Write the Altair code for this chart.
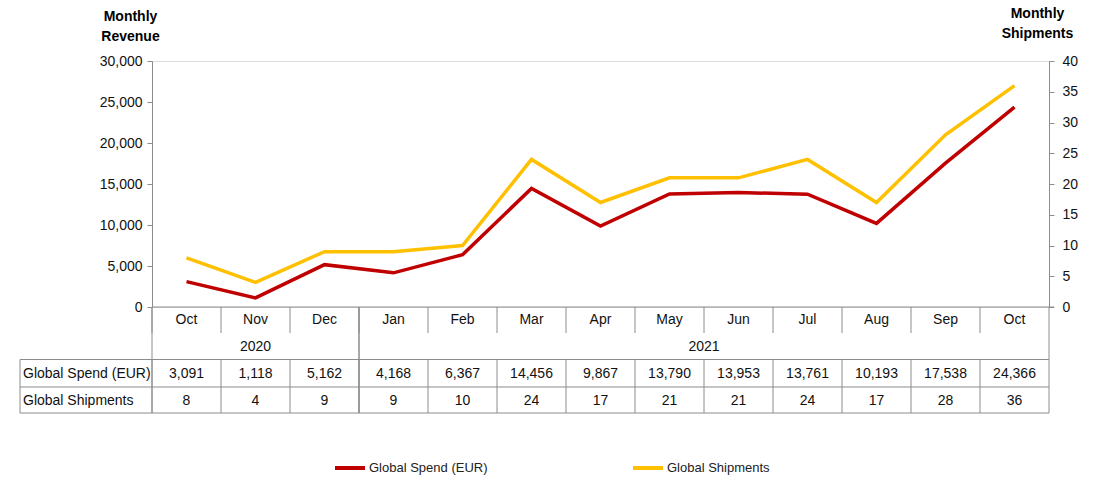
import altair as alt
import pandas as pd

months = ["Oct", "Nov", "Dec", "Jan", "Feb", "Mar", "Apr", "May", "Jun", "Jul", "Aug", "Sep", "Oct"]
years = ["2020"] * 3 + ["2021"] * 10
spend = [3091, 1118, 5162, 4168, 6367, 14456, 9867, 13790, 13953, 13761, 10193, 17538, 24366]
shipments = [8, 4, 9, 9, 10, 24, 17, 21, 21, 24, 17, 28, 36]
series_names = ["Global Spend (EUR)", "Global Shipments"]
series_colors = ["#C00000", "#FFC000"]

df = pd.DataFrame({
    "idx": list(range(len(months))),
    "month": months,
    "year": years,
    "spend": spend,
    "shipments": shipments,
})

FONT = "Liberation Sans, Arial, sans-serif"
GRID = "#8c8c8c"
TXT = "#111"
FS = 14
W, H = 897, 246
ROW_MONTH_BOTTOM = 272
ROW_YEAR_BOTTOM = 298.5
ROW_SPEND_BOTTOM = 326
ROW_SHIP_BOTTOM = 352
LABEL_LEFT = -132

xscale = alt.Scale(domain=[-0.5, len(months) - 0.5], nice=False, zero=False)
X = alt.X("idx:Q", scale=xscale, axis=None)

color = alt.Color(
    "series:N",
    scale=alt.Scale(domain=series_names, range=series_colors),
    legend=alt.Legend(
        orient="none", legendX=181, legendY=390, direction="horizontal",
        title=None, symbolType="stroke", symbolStrokeWidth=4, symbolSize=900,
        labelFont=FONT, labelFontSize=13, labelColor="#222", labelOffset=2,
        columnPadding=137, labelLimit=300, padding=0,
    ),
)

base = alt.Chart(df)

common_axis = dict(titleAngle=0, titleAlign="center", titleBaseline="top", titleFontWeight="bold",
                   titleFont=FONT, titleFontSize=14, titleLineHeight=20, titleColor="#000",
                   labelFont=FONT, labelFontSize=FS, labelColor=TXT,
                   tickSize=5, tickColor=GRID, domainColor=GRID, grid=False)

spend_line = base.mark_line(strokeWidth=3.5).transform_calculate(
    series="'Global Spend (EUR)'"
).encode(
    x=X,
    y=alt.Y("spend:Q", scale=alt.Scale(domain=[0, 30000], nice=False),
            axis=alt.Axis(orient="left", values=list(range(0, 30001, 5000)), format=",d",
                          title=["Monthly", "Revenue"], titleX=-22, titleY=-52,
                          labelPadding=5, **common_axis)),
    color=color,
)

ship_line = base.mark_line(strokeWidth=3.5).transform_calculate(
    series="'Global Shipments'"
).encode(
    x=X,
    y=alt.Y("shipments:Q", scale=alt.Scale(domain=[0, 40], nice=False),
            axis=alt.Axis(orient="right", values=list(range(0, 41, 5)), format="d",
                          title=["Monthly", "Shipments"], titleX=-12, titleY=-55,
                          labelPadding=8, **common_axis)),
    color=color,
)

def txt(y, field, fmt=None):
    enc = {"x": X, "y": alt.value(y)}
    enc["text"] = alt.Text(field, format=fmt) if fmt else alt.Text(field)
    return base.mark_text(font=FONT, fontSize=FS, color=TXT, baseline="middle").encode(**enc)

month_text = txt(259, "month:N")
spend_text = txt(313, "spend:Q", ",d")
ship_text = txt(339.5, "shipments:Q")

year_text = base.transform_aggregate(
    center="mean(idx)", groupby=["year"]
).mark_text(font=FONT, fontSize=FS, color=TXT, baseline="middle").encode(
    x=alt.X("center:Q", scale=xscale, axis=None), y=alt.value(285.5), text="year:N"
)

row_labels = pd.DataFrame({"label": series_names, "row": [313, 339.5]})
label_text = alt.Chart(row_labels).mark_text(
    font=FONT, fontSize=FS, color=TXT, baseline="middle", align="left"
).encode(x=alt.value(LABEL_LEFT + 3), y=alt.Y("row:Q", scale=None), text="label:N")

rule_style = dict(color=GRID, strokeWidth=1)

bounds = base.transform_calculate(b="datum.idx - 0.5")
vx = alt.X("b:Q", scale=xscale, axis=None)
vsep_month = bounds.mark_rule(**rule_style).encode(x=vx, y=alt.value(H), y2=alt.value(ROW_MONTH_BOTTOM))
vsep_vals = bounds.mark_rule(**rule_style).encode(x=vx, y=alt.value(ROW_YEAR_BOTTOM), y2=alt.value(ROW_SHIP_BOTTOM))

year_edges = base.transform_aggregate(lo="min(idx)", hi="max(idx)", groupby=["year"])
yedge_lo = year_edges.transform_calculate(b="datum.lo - 0.5").mark_rule(**rule_style).encode(
    x=vx, y=alt.value(H), y2=alt.value(ROW_SHIP_BOTTOM))
yedge_hi = year_edges.transform_calculate(b="datum.hi + 0.5").mark_rule(**rule_style).encode(
    x=vx, y=alt.value(H), y2=alt.value(ROW_SHIP_BOTTOM))

hlines = pd.DataFrame({"y": [ROW_YEAR_BOTTOM, ROW_SPEND_BOTTOM, ROW_SHIP_BOTTOM]})
hrules = alt.Chart(hlines).mark_rule(**rule_style).encode(
    x=alt.value(LABEL_LEFT), x2=alt.value(W), y=alt.Y("y:Q", scale=None))
axis_line = alt.Chart(hlines.head(1)).mark_rule(**rule_style).encode(
    x=alt.value(0), x2=alt.value(W + 5), y=alt.value(H))
label_box = alt.Chart(hlines.head(1)).mark_rule(**rule_style).encode(
    x=alt.value(LABEL_LEFT), y=alt.value(ROW_YEAR_BOTTOM), y2=alt.value(ROW_SHIP_BOTTOM))

chart = alt.layer(
    spend_line, ship_line,
    vsep_month, vsep_vals, yedge_lo, yedge_hi, hrules, axis_line, label_box,
    month_text, year_text, spend_text, ship_text, label_text,
).resolve_scale(y="independent").properties(
    width=W, height=H,
    autosize=alt.AutoSizeParams(type="none"),
    padding={"left": 152, "top": 61, "right": 47, "bottom": 171},
).configure_view(stroke=None).configure(background="white")

chart.save("out.html", embed_options={"renderer": "svg", "actions": False})
